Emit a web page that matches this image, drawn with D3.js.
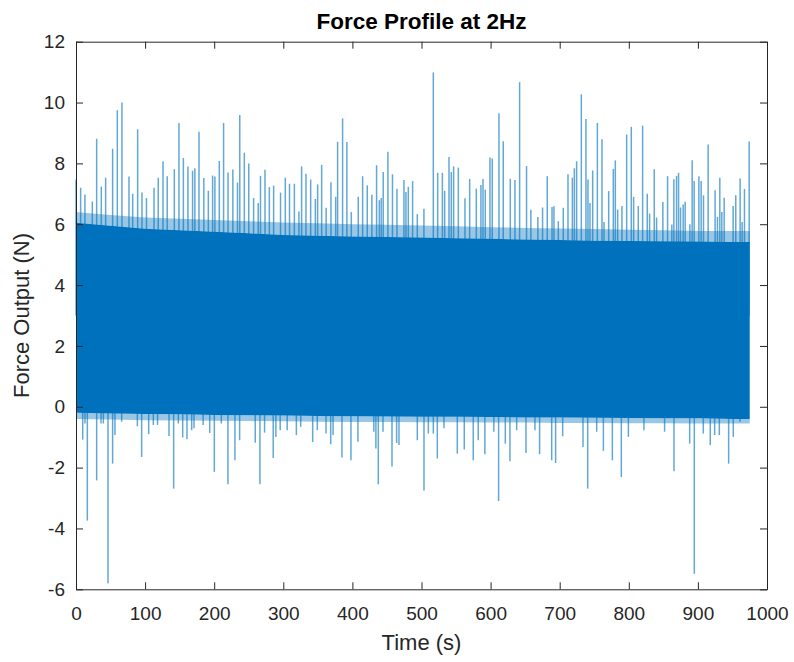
<!DOCTYPE html>
<html>
<head>
<meta charset="utf-8">
<script src="https://cdn.jsdelivr.net/npm/d3@7/dist/d3.min.js"></script>
<style>
  html, body { margin: 0; padding: 0; background: #ffffff; }
  svg { display: block; font-family: "Liberation Sans", Arial, Helvetica, sans-serif; }
  .axis text { fill: #262626; font-size: 19px; }
  .axis path, .axis line { stroke: #262626; stroke-width: 1; }
</style>
</head>
<body>
<svg id="chart" width="794" height="662"></svg>
<script>
// Axis ticks
const xTicks = [0, 100, 200, 300, 400, 500, 600, 700, 800, 900, 1000];
const yTicks = [-6, -4, -2, 0, 2, 4, 6, 8, 10, 12];

// Envelope of the dense oscillation (time in s, force in N)
const bandTime   = [0, 50, 100, 150, 200, 250, 300, 350, 400, 450, 500, 550, 600, 650, 700, 750, 800, 850, 900, 950, 975];
const bandUpper  = [6.05, 5.95, 5.85, 5.8, 5.75, 5.7, 5.65, 5.62, 5.6, 5.58, 5.56, 5.54, 5.52, 5.5, 5.48, 5.46, 5.45, 5.44, 5.43, 5.42, 5.42];
const bandLower  = [-0.2, -0.22, -0.24, -0.25, -0.27, -0.28, -0.29, -0.3, -0.31, -0.32, -0.33, -0.33, -0.34, -0.35, -0.35, -0.36, -0.37, -0.38, -0.38, -0.4, -0.4];
const fringeUpper = [6.4, 6.3, 6.22, 6.18, 6.14, 6.1, 6.06, 6.03, 6.0, 5.98, 5.96, 5.93, 5.9, 5.88, 5.86, 5.84, 5.82, 5.8, 5.78, 5.78, 5.78];
const fringeLower = [-0.4, -0.42, -0.44, -0.45, -0.46, -0.47, -0.48, -0.49, -0.5, -0.5, -0.51, -0.51, -0.52, -0.52, -0.53, -0.53, -0.54, -0.54, -0.55, -0.55, -0.55];

// Peaks above the band
const spikeUpTime = [0, 6.7, 12.9, 23.6, 29.9, 36.6, 42.9, 53, 59.8, 66.5, 76.7, 82, 89.2, 95.5, 102, 112.9, 119, 125.9, 132, 142.3,
  149, 155.4, 162, 168.7, 172, 178, 185, 191.5, 197.7, 201, 207.4, 213.6, 220, 227, 233.7, 237, 243.6, 250, 257, 263.7,
  267, 273.5, 279.8, 286, 296, 302.9, 309, 316, 322.6, 326.5, 332.8, 339.6, 346.4, 349.7, 355.5, 362, 369, 375.8, 378.6, 385.8,
  392, 398.4, 408.5, 414.8, 421.5, 428.2, 435, 438.9, 441.7, 444.6, 451.4, 458, 464.5, 474.6, 477.5, 480.9, 487.1, 493.9, 503.5, 517.1,
  523.4, 530.2, 533.5, 539.8, 543.1, 546.5, 553.3, 562.9, 569.7, 579.3, 586, 589, 592.3, 599.1, 602.4, 612.1, 618.3, 628.5, 635.2, 642,
  652, 658.3, 668.4, 675.2, 682, 688.9, 691.7, 698, 705.2, 712, 718.3, 721.2, 724.5, 731.3, 738, 740.9, 743.8, 747.7, 754.5, 761.2,
  764.1, 770.9, 777.6, 780.5, 783.9, 790.1, 796.9, 803.6, 807, 813.7, 820, 826.7, 830.1, 836.8, 840.2, 849.3, 856.1, 862.3, 865.2, 869.1,
  872, 874.9, 878.7, 881.6, 888.4, 891.7, 894.6, 901.4, 904.7, 908.1, 914.8, 924.9, 928.3, 931.7, 934.6, 938, 951, 954.8, 961.1, 964,
  967.4, 974.2];
const spikeUpValue = [7.47, 7.2, 6.98, 6.75, 8.81, 7.24, 7.53, 8.48, 9.75, 10.0, 7.57, 7.0, 9.12, 7.04, 6.86, 7.2, 7.53, 8.07, 7.58, 7.81,
  9.33, 8.18, 7.9, 7.76, 7.84, 9.04, 7.52, 7.1, 7.6, 7.57, 8.08, 9.33, 7.7, 7.8, 7.37, 9.59, 8.35, 8.0, 6.86, 6.7,
  7.59, 7.79, 7.22, 7.27, 7.04, 7.53, 7.33, 7.33, 6.42, 7.9, 7.66, 7.47, 6.83, 7.31, 7.95, 6.54, 7.38, 6.9, 8.71, 9.48,
  8.7, 6.4, 6.9, 7.58, 7.28, 6.97, 7.94, 6.79, 6.86, 7.72, 8.38, 7.64, 7.17, 7.45, 7.06, 7.23, 7.42, 6.33, 6.51, 10.99,
  7.69, 7.69, 7.1, 8.21, 7.72, 7.9, 7.86, 6.85, 7.49, 7.17, 7.29, 7.49, 7.14, 8.19, 8.16, 9.65, 8.73, 7.49, 7.45, 10.67,
  7.91, 6.48, 6.24, 6.55, 7.58, 6.57, 6.59, 6.1, 6.54, 7.64, 7.53, 7.84, 8.07, 10.27, 9.46, 7.47, 6.7, 7.77, 9.33, 8.79,
  6.07, 7.09, 7.82, 8.1, 6.48, 6.6, 8.95, 9.2, 6.9, 6.6, 9.24, 7.0, 6.35, 7.81, 6.22, 6.73, 7.58, 5.99, 7.48, 7.59,
  7.69, 6.55, 6.65, 6.74, 6.0, 8.1, 7.42, 7.58, 7.42, 6.95, 8.62, 7.12, 6.24, 7.53, 6.4, 6.87, 6.6, 6.95, 7.5, 6.07,
  7.16, 8.72];

// Dips below the band
const spikeDownTime = [9.7, 13, 16.4, 29.9, 36.2, 39.6, 46.3, 53, 56.4, 66.1, 88.8, 95, 105.2, 111.9, 118, 134.6, 141.3, 148.1, 154.4, 160.6,
  167.4, 170.8, 184, 193.5, 200.2, 210.3, 219.9, 230, 236.8, 259.4, 266.2, 272.9, 285.4, 289.3, 295.5, 305.6, 318.9, 325.2, 342.5, 349.2,
  361.8, 368.6, 372, 384.9, 397.9, 408, 431, 434, 437.5, 444.3, 457.3, 464, 467.4, 493.9, 503.6, 509.9, 517.1, 522.9, 532.5, 551.8,
  561.9, 574.9, 582.1, 591.7, 604.7, 611.6, 621.3, 628, 637.7, 651.2, 664.2, 670.9, 688.4, 694.1, 704.3, 733.7, 740.5, 753.5, 763.2, 776.2,
  789.2, 799.4, 821.9, 851.8, 865.4, 888.1, 894.8, 907.8, 917.9, 924.2, 931, 944.5, 951.2, 960.9];
const spikeDownValue = [-1.08, -0.55, -3.74, -2.42, -0.55, -0.55, -5.8, -1.87, -0.93, -0.49, -0.64, -1.65, -0.9, -0.6, -0.6, -0.96, -2.69, -0.55, -1.01, -1.07,
  -0.77, -0.71, -0.6, -0.86, -2.14, -0.55, -2.55, -1.76, -1.1, -1.18, -2.55, -0.85, -1.68, -0.99, -0.77, -0.77, -0.93, -0.66, -1.16, -0.77,
  -0.88, -1.23, -0.93, -1.67, -1.76, -1.15, -0.82, -1.37, -2.55, -0.82, -1.96, -1.19, -1.26, -1.1, -2.75, -0.88, -0.88, -1.7, -0.71, -1.54,
  -1.4, -1.76, -1.1, -1.56, -0.82, -3.1, -1.21, -1.79, -0.77, -1.52, -0.77, -1.56, -1.76, -1.85, -0.97, -1.32, -2.69, -0.82, -1.45, -1.76,
  -2.31, -0.99, -0.77, -0.82, -2.12, -1.21, -5.49, -0.88, -1.26, -0.93, -0.93, -1.87, -0.99, -0.49];

const svg = d3.select("#chart");
const plot = { left: 76, right: 767, top: 41.7, bottom: 589.3 };
const lineColor = "#0072BD";

const x = d3.scaleLinear().domain([0, 1000]).range([plot.left, plot.right]);
const y = d3.scaleLinear().domain([-6, 12]).range([plot.bottom, plot.top]);

const body = svg.append("g");

// Individual peaks and dips, drawn from inside the band outward
const ups = spikeUpTime.map((t, i) => ({ t, v: spikeUpValue[i] }));
const downs = spikeDownTime.map((t, i) => ({ t, v: spikeDownValue[i] }));

body.append("g").selectAll("line").data(ups).join("line")
  .attr("x1", d => x(d.t)).attr("x2", d => x(d.t))
  .attr("y1", y(3)).attr("y2", d => y(d.v))
  .attr("stroke", lineColor).attr("stroke-width", 1.5).attr("stroke-opacity", 0.62);

body.append("g").selectAll("line").data(downs).join("line")
  .attr("x1", d => x(d.t)).attr("x2", d => x(d.t))
  .attr("y1", y(2)).attr("y2", d => y(d.v))
  .attr("stroke", lineColor).attr("stroke-width", 1.5).attr("stroke-opacity", 0.62);

// Fringe of short excursions just outside the solid band
const band = bandTime.map((t, i) => ({ t, hi: bandUpper[i], lo: bandLower[i], fhi: fringeUpper[i], flo: fringeLower[i] }));

body.append("path").datum(band)
  .attr("d", d3.area().x(d => x(d.t)).y0(d => y(d.hi)).y1(d => y(d.fhi)))
  .attr("fill", lineColor).attr("fill-opacity", 0.4);

body.append("path").datum(band)
  .attr("d", d3.area().x(d => x(d.t)).y0(d => y(d.lo)).y1(d => y(d.flo)))
  .attr("fill", lineColor).attr("fill-opacity", 0.4);

// Solid body of the oscillation
body.append("path").datum(band)
  .attr("d", d3.area().x(d => x(d.t)).y0(d => y(d.lo)).y1(d => y(d.hi)))
  .attr("fill", lineColor);

// Axes: ticks point inward on all four sides of the box
const tickLen = 7;
const plain = d => String(d);

svg.append("g").attr("class", "axis")
  .attr("transform", `translate(0,${plot.bottom})`)
  .call(d3.axisBottom(x).tickValues(xTicks).tickSizeInner(-tickLen).tickSizeOuter(0).tickPadding(17).tickFormat(plain));

svg.append("g").attr("class", "axis")
  .attr("transform", `translate(0,${plot.top})`)
  .call(d3.axisTop(x).tickValues(xTicks).tickSizeInner(-tickLen).tickSizeOuter(0).tickFormat(""));

svg.append("g").attr("class", "axis")
  .attr("transform", `translate(${plot.left},0)`)
  .call(d3.axisLeft(y).tickValues(yTicks).tickSizeInner(-tickLen).tickSizeOuter(0).tickPadding(11).tickFormat(plain));

svg.append("g").attr("class", "axis")
  .attr("transform", `translate(${plot.right},0)`)
  .call(d3.axisRight(y).tickValues(yTicks).tickSizeInner(-tickLen).tickSizeOuter(0).tickFormat(""));

// Title and axis labels
svg.append("text")
  .attr("x", (plot.left + plot.right) / 2).attr("y", 28.5)
  .attr("text-anchor", "middle")
  .attr("font-size", 22.5).attr("font-weight", "bold").attr("fill", "#000")
  .text("Force Profile at 2Hz");

svg.append("text")
  .attr("x", (plot.left + plot.right) / 2).attr("y", 650)
  .attr("text-anchor", "middle")
  .attr("font-size", 22).attr("fill", "#262626")
  .text("Time (s)");

svg.append("text")
  .attr("transform", `translate(28.5,${(plot.top + plot.bottom) / 2}) rotate(-90)`)
  .attr("text-anchor", "middle")
  .attr("font-size", 22).attr("fill", "#262626")
  .text("Force Output (N)");
</script>
</body>
</html>
